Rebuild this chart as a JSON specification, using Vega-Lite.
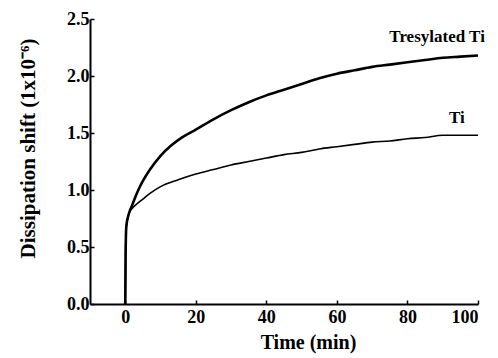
{
  "$schema": "https://vega.github.io/schema/vega-lite/v6.json",
  "autosize": {"type": "none"},
  "padding": {"left": 90, "top": 19, "right": 20, "bottom": 54},
  "width": 388,
  "height": 285,
  "background": "white",
  "config": {
    "view": {"stroke": null},
    "axis": {
      "grid": false,
      "domainColor": "black",
      "domainWidth": 2,
      "tickColor": "black",
      "tickWidth": 1.5
    }
  },
  "datasets": {
    "curves": [
      {"t": 0, "v": 0, "s": "Tresylated Ti"},
      {"t": 0.1, "v": 0.45, "s": "Tresylated Ti"},
      {"t": 0.3, "v": 0.68, "s": "Tresylated Ti"},
      {"t": 1, "v": 0.79, "s": "Tresylated Ti"},
      {"t": 2, "v": 0.87, "s": "Tresylated Ti"},
      {"t": 3, "v": 0.95, "s": "Tresylated Ti"},
      {"t": 4, "v": 1.02, "s": "Tresylated Ti"},
      {"t": 5, "v": 1.08, "s": "Tresylated Ti"},
      {"t": 7, "v": 1.18, "s": "Tresylated Ti"},
      {"t": 10, "v": 1.3, "s": "Tresylated Ti"},
      {"t": 13, "v": 1.39, "s": "Tresylated Ti"},
      {"t": 16, "v": 1.46, "s": "Tresylated Ti"},
      {"t": 20, "v": 1.53, "s": "Tresylated Ti"},
      {"t": 25, "v": 1.62, "s": "Tresylated Ti"},
      {"t": 30, "v": 1.7, "s": "Tresylated Ti"},
      {"t": 35, "v": 1.77, "s": "Tresylated Ti"},
      {"t": 40, "v": 1.83, "s": "Tresylated Ti"},
      {"t": 45, "v": 1.88, "s": "Tresylated Ti"},
      {"t": 50, "v": 1.93, "s": "Tresylated Ti"},
      {"t": 55, "v": 1.98, "s": "Tresylated Ti"},
      {"t": 60, "v": 2.02, "s": "Tresylated Ti"},
      {"t": 65, "v": 2.05, "s": "Tresylated Ti"},
      {"t": 70, "v": 2.08, "s": "Tresylated Ti"},
      {"t": 75, "v": 2.1, "s": "Tresylated Ti"},
      {"t": 80, "v": 2.12, "s": "Tresylated Ti"},
      {"t": 85, "v": 2.14, "s": "Tresylated Ti"},
      {"t": 90, "v": 2.16, "s": "Tresylated Ti"},
      {"t": 95, "v": 2.17, "s": "Tresylated Ti"},
      {"t": 100, "v": 2.18, "s": "Tresylated Ti"},
      {"t": 0, "v": 0, "s": "Ti"},
      {"t": 0.1, "v": 0.45, "s": "Ti"},
      {"t": 0.3, "v": 0.68, "s": "Ti"},
      {"t": 1, "v": 0.79, "s": "Ti"},
      {"t": 2, "v": 0.84, "s": "Ti"},
      {"t": 3, "v": 0.87, "s": "Ti"},
      {"t": 5, "v": 0.92, "s": "Ti"},
      {"t": 7, "v": 0.97, "s": "Ti"},
      {"t": 10, "v": 1.03, "s": "Ti"},
      {"t": 15, "v": 1.09, "s": "Ti"},
      {"t": 20, "v": 1.14, "s": "Ti"},
      {"t": 25, "v": 1.18, "s": "Ti"},
      {"t": 30, "v": 1.22, "s": "Ti"},
      {"t": 35, "v": 1.25, "s": "Ti"},
      {"t": 40, "v": 1.28, "s": "Ti"},
      {"t": 45, "v": 1.31, "s": "Ti"},
      {"t": 50, "v": 1.33, "s": "Ti"},
      {"t": 55, "v": 1.36, "s": "Ti"},
      {"t": 60, "v": 1.38, "s": "Ti"},
      {"t": 65, "v": 1.4, "s": "Ti"},
      {"t": 70, "v": 1.42, "s": "Ti"},
      {"t": 75, "v": 1.43, "s": "Ti"},
      {"t": 80, "v": 1.45, "s": "Ti"},
      {"t": 85, "v": 1.46, "s": "Ti"},
      {"t": 90, "v": 1.48, "s": "Ti"},
      {"t": 95, "v": 1.48, "s": "Ti"},
      {"t": 100, "v": 1.48, "s": "Ti"}
    ],
    "labels": [
      {"t": 88.4, "v": 2.3, "label": "Tresylated Ti"},
      {"t": 94, "v": 1.59, "label": "Ti"}
    ]
  },
  "layer": [
    {
      "data": {"name": "curves"},
      "mark": {"type": "line", "color": "black", "interpolate": "monotone"},
      "encoding": {
        "x": {
          "field": "t", "type": "quantitative",
          "scale": {"domain": [-10, 100], "nice": false, "zero": false},
          "axis": {
            "title": "Time (min)",
            "values": [0, 10, 20, 30, 40, 50, 60, 70, 80, 90, 100],
            "labelExpr": "datum.value % 20 === 0 ? datum.label : ''",
            "tickSize": -4,
            "labelPadding": 8,
            "labelFont": "Liberation Serif",
            "labelFontWeight": "bold",
            "labelFontSize": 18,
            "labelColor": "black",
            "titleFont": "Liberation Serif",
            "titleFontWeight": "bold",
            "titleFontSize": 20,
            "titleColor": "black",
            "titleX": 218,
            "titlePadding": 6
          }
        },
        "y": {
          "field": "v", "type": "quantitative",
          "scale": {"domain": [0, 2.5], "nice": false},
          "axis": {
            "title": "Dissipation shift (1x10⁻⁶)",
            "values": [0, 0.25, 0.5, 0.75, 1, 1.25, 1.5, 1.75, 2, 2.25, 2.5],
            "labelExpr": "(datum.value * 2) % 1 === 0 ? format(datum.value, '.1f') : ''",
            "tickSize": -4,
            "labelPadding": 5,
            "labelFont": "Liberation Serif",
            "labelFontWeight": "bold",
            "labelFontSize": 18,
            "labelColor": "black",
            "titleFont": "Liberation Serif",
            "titleFontWeight": "bold",
            "titleFontSize": 21,
            "titleColor": "black",
            "titleY": 129,
            "titlePadding": 28
          }
        },
        "detail": {"field": "s"},
        "strokeWidth": {
          "field": "s", "type": "nominal",
          "scale": {"domain": ["Tresylated Ti", "Ti"], "range": [2.6, 1.6]},
          "legend": null
        }
      }
    },
    {
      "data": {"name": "labels"},
      "mark": {"type": "text", "font": "Liberation Serif", "fontWeight": "bold", "fontSize": 17, "color": "black", "align": "center", "baseline": "alphabetic"},
      "encoding": {
        "x": {"field": "t", "type": "quantitative"},
        "y": {"field": "v", "type": "quantitative"},
        "text": {"field": "label"}
      }
    }
  ]
}
